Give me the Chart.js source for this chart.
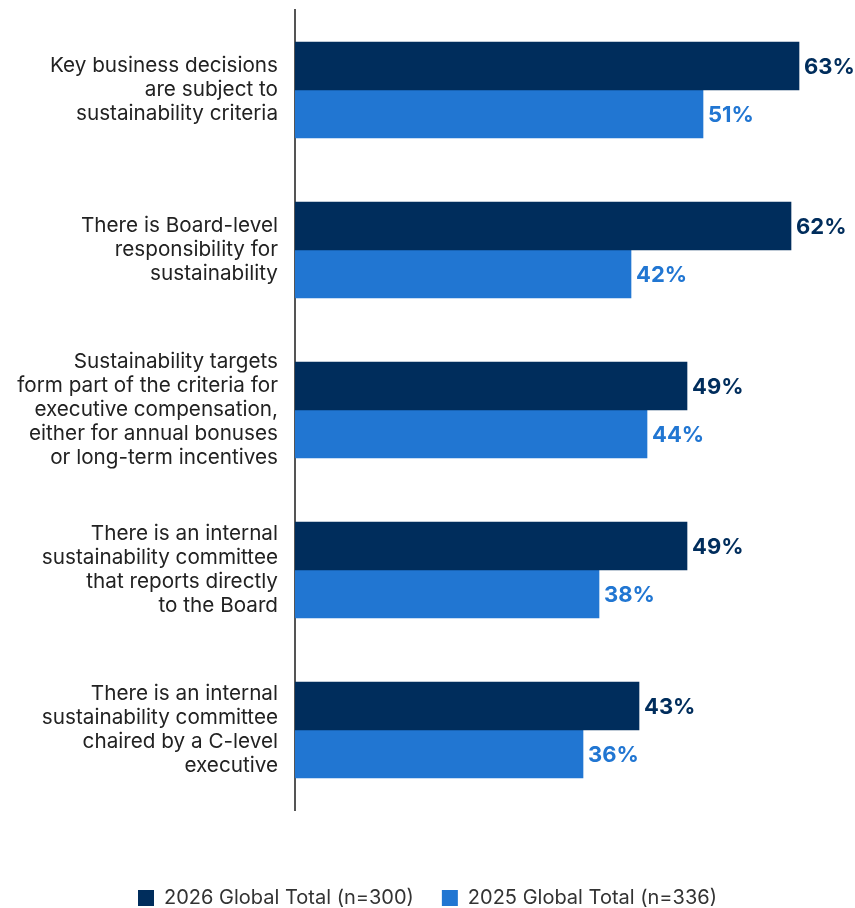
<!DOCTYPE html>
<html>
<head>
<meta charset="utf-8">
<script src="https://cdn.jsdelivr.net/npm/chart.js@4"></script>
<style>
  html, body { margin: 0; padding: 0; background: #ffffff; }
  #wrap { width: 855px; height: 908px; position: relative; }
</style>
</head>
<body>
<div id="wrap"><canvas id="c"></canvas></div>
<script>
const categories = [
  ["Key business decisions", "are subject to", "sustainability criteria"],
  ["There is Board-level", "responsibility for", "sustainability"],
  ["Sustainability targets", "form part of the criteria for", "executive compensation,", "either for annual bonuses", "or long-term incentives"],
  ["There is an internal", "sustainability committee", "that reports directly", "to the Board"],
  ["There is an internal", "sustainability committee", "chaired by a C-level", "executive"]
];
const series2026 = [63, 62, 49, 49, 43];
const series2025 = [51, 42, 44, 38, 36];
const seriesNames = ["2026 Global Total (n=300)", "2025 Global Total (n=336)"];
const colors = ["#002D5C", "#2176D2"];

const FONT = "Inter, 'Noto Sans', sans-serif";

const valueLabels = {
  id: 'valueLabels',
  afterDatasetsDraw(chart) {
    const ctx = chart.ctx;
    ctx.save();
    ctx.font = "bold 22px " + FONT;
    ctx.textBaseline = 'middle';
    ctx.textAlign = 'left';
    chart.data.datasets.forEach((ds, di) => {
      const meta = chart.getDatasetMeta(di);
      ctx.fillStyle = ds.backgroundColor;
      meta.data.forEach((bar, i) => {
        ctx.fillText(ds.data[i] + '%', bar.x + 5, bar.y + 1);
      });
    });
    ctx.restore();
  }
};

const legendShift = {
  id: 'legendShift',
  afterLayout(chart) {
    if (chart.legend) {
      chart.legend.top += 10;
      chart.legend.bottom += 10;
    }
  }
};

new Chart(document.getElementById('c'), {
  type: 'bar',
  data: {
    labels: categories,
    datasets: [
      { label: seriesNames[0], data: series2026, backgroundColor: colors[0], barThickness: 48 },
      { label: seriesNames[1], data: series2025, backgroundColor: colors[1], barThickness: 48 }
    ]
  },
  options: {
    indexAxis: 'y',
    responsive: true,
    maintainAspectRatio: false,
    animation: false,
    layout: { padding: { top: 10, right: 0, bottom: 0, left: 0 } },
    scales: {
      x: {
        min: 0, max: 70,
        display: true,
        grid: { display: false },
        border: { display: false },
        ticks: { display: false },
        afterFit(s) { s.height = 40; s.paddingLeft = 0; s.paddingRight = 0; }
      },
      y: {
        grid: { display: false },
        border: { display: true, color: '#555555', width: 2 },
        ticks: {
          color: '#222222',
          font: { family: FONT, size: 20.7, lineHeight: 1.16 },
          padding: 9
        },
        afterFit(s) { s.width = 295; s.paddingTop = 0; s.paddingBottom = 0; }
      }
    },
    plugins: {
      legend: {
        position: 'bottom',
        labels: {
          color: '#333333',
          font: { family: FONT, size: 20 },
          boxWidth: 16,
          boxHeight: 16,
          padding: 28
        }
      },
      tooltip: { enabled: false }
    }
  },
  plugins: [valueLabels, legendShift]
});
</script>
</body>
</html>
